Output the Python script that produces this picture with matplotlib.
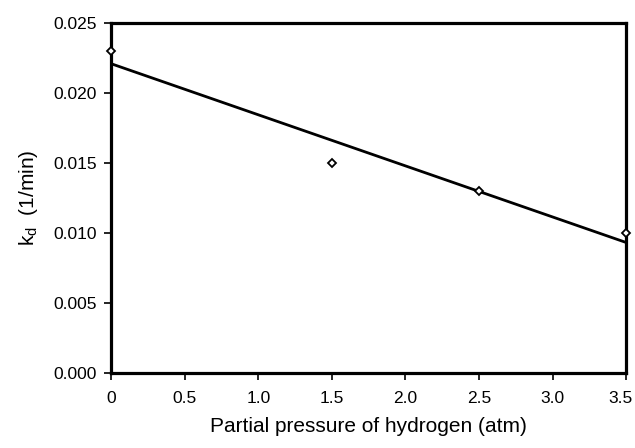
import matplotlib
matplotlib.use("Agg")
import matplotlib.pyplot as plt
import matplotlib.transforms as mtransforms
import numpy as np

plt.rcParams['font.family'] = ['Liberation Sans', 'DejaVu Sans']

# data
pressure = np.array([0.0, 1.5, 2.5, 3.5])
kd = np.array([0.023, 0.015, 0.013, 0.010])
xticks = [0, 0.5, 1.0, 1.5, 2.0, 2.5, 3.0, 3.5]
xtick_labels = ["0", "0.5", "1.0", "1.5", "2.0", "2.5", "3.0", "3.5"]
yticks = [0.000, 0.005, 0.010, 0.015, 0.020, 0.025]

# linear trend line
slope, intercept = np.polyfit(pressure, kd, 1)
xfit = np.array([0.0, 3.5])

fig = plt.figure(figsize=(6.35, 4.48), dpi=100)
ax = fig.add_axes([0.175, 0.167, 0.811, 0.782])

ax.plot(xfit, slope * xfit + intercept, color='black', lw=2.0, zorder=2)
ax.plot(pressure, kd, linestyle='none', marker='D', markersize=4,
        markerfacecolor='white', markeredgecolor='black', markeredgewidth=1.3,
        clip_on=False, zorder=3)

ax.set_xlim(0, 3.5)
ax.set_ylim(0, 0.025)
ax.set_xticks(xticks)
ax.set_xticklabels(xtick_labels)
ax.set_yticks(yticks)
ax.set_yticklabels([f"{v:.3f}" for v in yticks])

for s in ax.spines.values():
    s.set_linewidth(2.3)
ax.tick_params(direction='out', length=5, width=1.2, labelsize=12.5, pad=5)
ax.tick_params(axis='x', pad=8)

# nudge the last x label so it stays inside the figure
last = ax.get_xticklabels()[-1]
last.set_transform(last.get_transform() +
                   mtransforms.ScaledTranslation(-6 / 100, 0, fig.dpi_scale_trans))

ax.set_xlabel("Partial pressure of hydrogen (atm)", fontsize=15, labelpad=8)
ax.set_ylabel(r"k$_\mathregular{d}$  (1/min)", fontsize=15, labelpad=10)

fig.savefig("out.png", dpi=100)
